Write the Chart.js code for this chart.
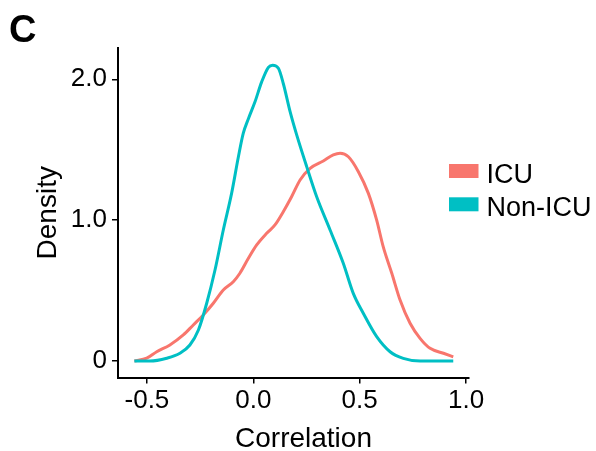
<!DOCTYPE html>
<html>
<head>
<meta charset="utf-8">
<script src="https://cdn.jsdelivr.net/npm/chart.js@4.4.1/dist/chart.umd.min.js"></script>
<style>
  html, body { margin: 0; padding: 0; background: #fff; }
  #wrap { width: 596px; height: 451px; position: relative; }
</style>
</head>
<body>
<div id="wrap"><canvas id="density-chart" width="596" height="451"></canvas></div>
<script>
// density curves (x = correlation, y = density)
const icuX = [-0.559, -0.501, -0.454, -0.392, -0.329, -0.282, -0.235, -0.188, -0.141, -0.094, -0.063, -0.023,
    0.016, 0.063, 0.102, 0.141, 0.180, 0.220, 0.267, 0.329, 0.376, 0.408, 0.447, 0.494, 0.541, 0.580,
    0.611, 0.651, 0.690, 0.737, 0.784, 0.831, 0.894, 0.940];
const icuY = [0.0, 0.02, 0.066, 0.114, 0.185, 0.256, 0.327, 0.41, 0.504, 0.563, 0.623, 0.729,
    0.824, 0.907, 0.966, 1.06, 1.166, 1.285, 1.368, 1.42, 1.463, 1.475, 1.45, 1.344, 1.19, 1.0,
    0.81, 0.623, 0.433, 0.268, 0.161, 0.09, 0.055, 0.03];

const nonIcuX = [-0.559, -0.486, -0.407, -0.345, -0.298, -0.258, -0.219, -0.180, -0.141, -0.102, -0.070,
    -0.047, -0.023, 0.008, 0.039, 0.071, 0.091, 0.118, 0.141, 0.173, 0.204, 0.251, 0.298, 0.361,
    0.423, 0.470, 0.517, 0.580, 0.643, 0.705, 0.784, 0.862, 0.940];
const nonIcuY = [0.0, 0.0, 0.02, 0.055, 0.114, 0.22, 0.41, 0.646, 0.93, 1.19, 1.45,
    1.617, 1.72, 1.84, 1.98, 2.085, 2.10, 2.078, 1.97, 1.77, 1.605, 1.38, 1.166, 0.93,
    0.694, 0.48, 0.339, 0.173, 0.066, 0.019, 0.0, 0.0, 0.0];

const xTickValues = [-0.5, 0, 0.5, 1.0];
const xTickLabels = ['-0.5', '0.0', '0.5', '1.0'];
const yTickValues = [0, 1, 2];
const yTickLabels = ['0', '1.0', '2.0'];

const seriesNames = ['ICU', 'Non-ICU'];
const seriesColors = ['#F8766D', '#00BFC4'];

const FONT = '"Liberation Sans", Arial, sans-serif';

function toPoints(xs, ys) {
    return xs.map((x, i) => ({x: x, y: ys[i]}));
}

// panel letter, x title and the legend, placed like the ggplot output
const extras = {
    id: 'extras',
    afterDraw(chart) {
        const ctx = chart.ctx;
        ctx.save();
        ctx.fillStyle = '#000';
        ctx.textAlign = 'left';
        ctx.textBaseline = 'alphabetic';
        ctx.font = 'bold 38px ' + FONT;
        ctx.fillText('C', 9, 41.5);

        ctx.font = '28px ' + FONT;
        ctx.textAlign = 'center';
        ctx.fillText('Correlation', 303.5, 446.5);

        ctx.textAlign = 'left';
        ctx.font = '27px ' + FONT;
        chart.data.datasets.forEach((ds, i) => {
            const top = 164 + i * 33.3;
            ctx.fillStyle = ds.borderColor;
            ctx.fillRect(449, top, 29.5, 14);
            ctx.fillStyle = '#000';
            ctx.fillText(ds.label, 486.5, top + 18.9);
        });
        ctx.restore();
    }
};

const ctx = document.getElementById('density-chart').getContext('2d');
new Chart(ctx, {
    type: 'scatter',
    data: {
        datasets: [
            {
                label: seriesNames[0],
                data: toPoints(icuX, icuY),
                borderColor: seriesColors[0],
                order: 1
            },
            {
                label: seriesNames[1],
                data: toPoints(nonIcuX, nonIcuY),
                borderColor: seriesColors[1],
                order: 0
            }
        ]
    },
    options: {
        responsive: false,
        animation: false,
        showLine: true,
        elements: {
            point: {radius: 0, hoverRadius: 0},
            line: {borderWidth: 3, tension: 0.4, cubicInterpolationMode: 'monotone', fill: false}
        },
        layout: {padding: {top: 48, right: 127, left: 0, bottom: 0}},
        plugins: {
            legend: {display: false},
            tooltip: {enabled: false}
        },
        scales: {
            x: {
                type: 'linear',
                min: -0.636,
                max: 1.014,
                afterBuildTicks: s => { s.ticks = xTickValues.map(v => ({value: v})); },
                afterFit: s => { s.height = 73.5; },
                border: {display: true, color: '#000', width: 2},
                grid: {drawOnChartArea: false, drawTicks: true, tickLength: 6, color: '#000', lineWidth: 1.5},
                ticks: {
                    color: '#000',
                    padding: 2,
                    maxRotation: 0,
                    font: {family: FONT, size: 26},
                    callback: v => xTickLabels[xTickValues.indexOf(v)]
                }
            },
            y: {
                min: -0.117,
                max: 2.222,
                afterBuildTicks: s => { s.ticks = yTickValues.map(v => ({value: v})); },
                afterFit: s => { s.width = 118; },
                border: {display: true, color: '#000', width: 2},
                grid: {drawOnChartArea: false, drawTicks: true, tickLength: 6, color: '#000', lineWidth: 1.5},
                title: {
                    display: true,
                    text: 'Density',
                    color: '#000',
                    font: {family: FONT, size: 28, lineHeight: 1},
                    padding: {top: 34, bottom: 0}
                },
                ticks: {
                    color: '#000',
                    padding: 5,
                    font: {family: FONT, size: 26},
                    callback: v => yTickLabels[yTickValues.indexOf(v)]
                }
            }
        }
    },
    plugins: [extras]
});
</script>
</body>
</html>
